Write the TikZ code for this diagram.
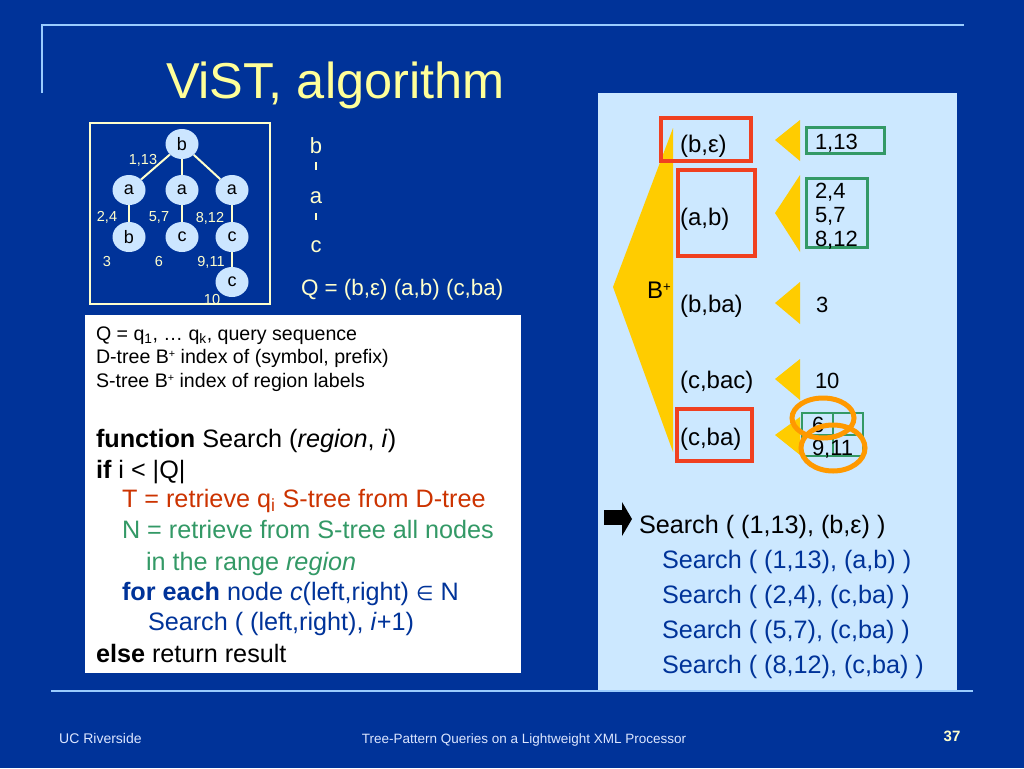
\documentclass[tikz,border=0pt]{standalone}
\usepackage{fontspec}
\setmainfont{Liberation Sans}
\newfontfamily\dejavu{DejaVu Sans}
\usetikzlibrary{shapes.geometric}
\definecolor{bg}{RGB}{0,51,153}
\definecolor{rulec}{RGB}{153,204,255}
\definecolor{ttl}{RGB}{255,255,153}
\definecolor{pale}{RGB}{255,255,204}
\definecolor{panel}{RGB}{204,232,255}
\definecolor{circ}{RGB}{204,230,255}
\definecolor{redbox}{RGB}{240,64,32}
\definecolor{grn}{RGB}{51,153,102}
\definecolor{codered}{RGB}{204,51,0}
\definecolor{orng}{RGB}{255,153,0}
\definecolor{yel}{RGB}{255,204,0}
\definecolor{foot}{RGB}{220,230,255}
\newcommand\fsz[1]{\fontsize{#1}{#1}\selectfont}
\newcommand\smallplus{\raisebox{0.28em}{\scalebox{0.55}{+}}}
\begin{document}
\begin{tikzpicture}[x=1pt,y=-1pt,
  txt/.style={anchor=base west,inner sep=0,outer sep=0},
  tnode/.style={ellipse,fill=circ,minimum width=33pt,minimum height=30pt,inner sep=0,font=\fsz{18}},
  tedge/.style={draw=pale,line width=2pt},
  tlab/.style={inner sep=0,text=pale,font=\fsz{14.5}},
  qlet/.style={anchor=base,inner sep=0,outer sep=0,text=pale,font=\fsz{22}},
  qtick/.style={draw=pale,line width=2.5pt},
  code/.style={txt,font=\fsz{25.2}},
  smallcode/.style={txt,font=\fsz{19.6}},
  dlab/.style={txt,font=\fsz{24}},
  slab/.style={txt,font=\fsz{22}},
  redframe/.style={draw=redbox,line width=3.5pt},
  grnframe/.style={draw=grn,line width=3pt},
  ytri/.style={fill=yel},
  ring/.style={draw=orng,line width=5pt},
  srch/.style={txt,font=\fsz{25.2}},
  footer/.style={inner sep=0,anchor=base,text=foot,font=\fsz{14}}]
\fill[bg] (0,0) rectangle (1024,768);
\useasboundingbox (0,0) rectangle (1024,768);
% rules
\draw[rulec,line width=2.5pt] (42,93) -- (42,25) -- (964,25);
% right panel
\fill[panel] (598,93) rectangle (957,691);
\draw[rulec,line width=2.5pt] (51,691) -- (973,691);
% title
\node[txt,text=ttl,font=\fsz{50.5}] (title) at (166,98) {ViST, algorithm};
% tree box
\draw[pale,line width=2pt] (90,123) rectangle (270,304);
\node[tnode] (r) at (182,144) {b};
\node[tnode] (a1) at (129,190) {a};
\node[tnode] (a2) at (182,190) {a};
\node[tnode] (a3) at (232,190) {a};
\node[tnode] (b1) at (129,237) {b};
\node[tnode] (c2) at (182,237) {c};
\node[tnode] (c3) at (232,237) {c};
\node[tnode] (c4) at (232,282) {c};
\draw[tedge] (r) -- (a1);
\draw[tedge] (r) -- (a2);
\draw[tedge] (r) -- (a3);
\draw[tedge] (a1) -- (b1);
\draw[tedge] (a2) -- (c2);
\draw[tedge] (a3) -- (c3);
\draw[tedge] (c3) -- (c4);
\node[tlab] (l1) at (143,160) {1,13};
\node[tlab] (l2) at (107,217) {2,4};
\node[tlab] (l3) at (159,217) {5,7};
\node[tlab] (l4) at (210,218) {8,12};
\node[tlab] (l5) at (107,262) {3};
\node[tlab] (l6) at (159,262) {6};
\node[tlab] (l7) at (211,262) {9,11};
\node[tlab] (l8) at (212,300) {10};
% query
\node[qlet] (qb) at (316,153) {b};
\node[qlet] (qa) at (316,203) {a};
\node[qlet] (qc) at (316,252) {c};
\draw[qtick,shorten <=9pt,shorten >=21pt] (qb.south) -- (qa.north);
\draw[qtick,shorten <=10pt,shorten >=20pt] (qa.south) -- (qc.north);
\node[txt,text=pale,font=\fsz{22.4}] (qq) at (301,295) {Q = (b,ε) (a,b) (c,ba)};
% code box
\node[fill=white,minimum width=436pt,minimum height=358pt,anchor=north west,inner sep=0] (codebox) at (85,315) {};
\node[smallcode] (c1) at (96,340) {Q = q\textsubscript{1}, … q\textsubscript{k}, query sequence};
\node[smallcode] (c2l) at (96,363) {D-tree B\smallplus\ index of (symbol, prefix)};
\node[smallcode] (c3l) at (96,387) {S-tree B\smallplus\ index of region labels};
\node[code] (c4l) at (96,447) {\textbf{function} Search (\textit{region}, \textit{i})};
\node[code] (c5l) at (96,478) {\textbf{if} i < |Q|};
\node[code,text=codered] (c6l) at (122,507) {T = retrieve q\textsubscript{i} S-tree from D-tree};
\node[code,text=grn] (c7l) at (122,538) {N = retrieve from S-tree all nodes};
\node[code,text=grn] (c8l) at (146,570) {in the range \textit{region}};
\node[code,text=bg] (c9l) at (122,600) {\textbf{for each} node \textit{c}(left,right) {\dejavu\fsz{20}∈} N};
\node[code,text=bg] (c10l) at (148,630) {Search ( (left,right), \textit{i}+1)};
\node[code] (c11l) at (96,662) {\textbf{else} return result};
% B+ tree
\fill[yel] (673,128) -- (613,287) -- (673,452) -- cycle;
\node[txt,font=\fsz{24}] (bplus) at (647,298) {B\smallplus};
\node[dlab] (d1) at (680,152) {(b,ε)};
\node[dlab] (d2) at (680,225) {(a,b)};
\node[dlab] (d3) at (680,312) {(b,ba)};
\node[dlab] (d4) at (680,388) {(c,bac)};
\node[dlab] (d5) at (680,445) {(c,ba)};
\draw[redframe] (661,118) rectangle (751,161);
\draw[redframe] (678,170) rectangle (755,256);
\draw[redframe] (677,409) rectangle (752,461);
% small triangles
\fill[ytri] (775,140) -- (800,120) -- (800,161) -- cycle;
\fill[ytri] (775,213) -- (800,175) -- (800,252) -- cycle;
\fill[ytri] (775,303) -- (800,282) -- (800,324) -- cycle;
\fill[ytri] (775,379) -- (800,359) -- (800,400) -- cycle;
\fill[ytri] (775,435) -- (800,417) -- (800,455) -- cycle;
% S-tree entries
\draw[grnframe] (806,127) rectangle (884,153);
\node[slab] (s1) at (815,149) {1,13};
\draw[grnframe] (806,178) rectangle (867,247);
\node[slab] (s2) at (815,198) {2,4};
\node[slab] (s3) at (815,222) {5,7};
\node[slab] (s4) at (815,246) {8,12};
\node[slab] (s5) at (816,312) {3};
\node[slab] (s6) at (815,388) {10};
\draw[grn,line width=2pt] (802,413) rectangle (863,456) (833,413) -- (833,456) (802,435) -- (863,435);
\node[slab] (s7) at (812,432) {6};
\node[slab] (s8) at (812,455) {9,11};
\draw[ring] (823,418) ellipse [x radius=31,y radius=20];
\draw[ring] (833,448) ellipse [x radius=32,y radius=23];
% search trace
\fill[black] (604,510) rectangle (624,525);
\fill[black] (622,502) -- (632,519) -- (622,536) -- cycle;
\node[srch] (t1) at (639,533) {Search ( (1,13), (b,ε) )};
\node[srch,text=bg] (t2) at (662,568) {Search ( (1,13), (a,b) )};
\node[srch,text=bg] (t3) at (662,603) {Search ( (2,4), (c,ba) )};
\node[srch,text=bg] (t4) at (662,638) {Search ( (5,7), (c,ba) )};
\node[srch,text=bg] (t5) at (662,673) {Search ( (8,12), (c,ba) )};
% footer
\node[footer,anchor=base west] (f1) at (59,743) {UC Riverside};
\node[footer,font=\fsz{13.5}] (f2) at (524,743) {Tree-Pattern Queries on a Lightweight XML Processor};
\node[footer,text=pale,font=\fsz{15}\bfseries] (f3) at (952,741) {37};
\end{tikzpicture}
\end{document}
